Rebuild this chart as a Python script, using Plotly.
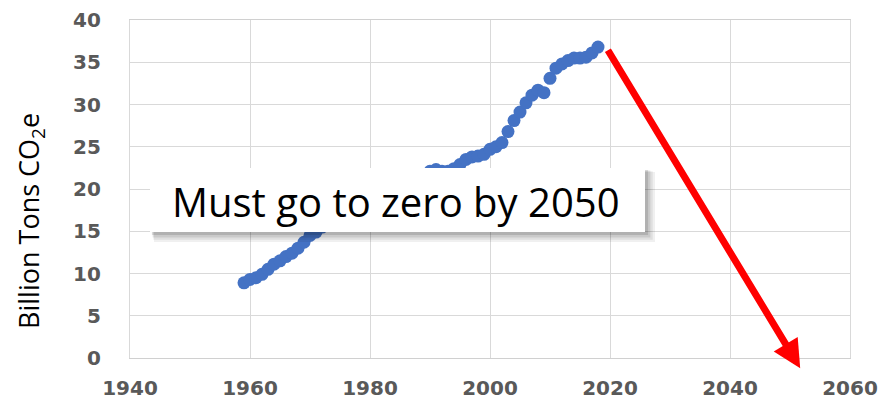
import plotly.graph_objects as go

years = list(range(1959, 2019))
emissions = [
    8.9, 9.3, 9.5, 9.9, 10.5, 11.1, 11.5, 12.0, 12.4, 13.0,
    13.7, 14.5, 14.9, 15.5, 16.3, 16.2, 16.2, 17.1, 17.6, 18.1,
    18.7, 18.4, 18.1, 18.0, 18.2, 18.8, 19.3, 19.7, 20.3, 21.0,
    21.4, 22.1, 22.3, 22.1, 22.1, 22.4, 22.9, 23.5, 23.8, 23.9,
    24.1, 24.7, 25.0, 25.5, 26.8, 28.1, 29.1, 30.2, 31.1, 31.7,
    31.4, 33.1, 34.3, 34.8, 35.2, 35.5, 35.5, 35.6, 36.1, 36.8,
]
x_ticks = [1940, 1960, 1980, 2000, 2020, 2040, 2060]
y_ticks = [0, 5, 10, 15, 20, 25, 30, 35, 40]
arrow_start = (2019.5, 36.6)
arrow_end = (2051.7, -1.2)
message = "Must go to zero by 2050"
y_title = "Billion Tons CO<sub>2</sub>e"

# page body adds an 8px offset; margins compensate so the plot lands
# at x 130..850, y 20..358 of the window
OFF = 8
W, H = 894, 400
L, R, T, B = 130 - OFF, 44 + OFF, 20 - OFF, 42 + OFF
XR = (1940, 2060)
YR = (0, 40)
pw, ph = W - L - R, H - T - B


def dx(px):
    return XR[0] + (px - 130) / pw * (XR[1] - XR[0])


def dy(py):
    return YR[0] + (358 - py) / ph * (YR[1] - YR[0])


fig = go.Figure()
fig.add_trace(go.Scatter(
    x=years, y=emissions, mode="markers",
    marker=dict(size=13, color="#4472C4"),
    hoverinfo="x+y", showlegend=False,
))

# annotation box with soft shadow
bx0, bx1, by0, by1 = 150, 645, 168, 232
shapes = []
for i, a in enumerate([0.06, 0.07, 0.09, 0.12]):
    off = 7 - i * 1.5
    grow = 3 - i * 0.8
    shapes.append(dict(
        type="rect", xref="x", yref="y", layer="above",
        x0=dx(bx0 + off - grow), x1=dx(bx1 + off + grow),
        y0=dy(by1 + off + grow), y1=dy(by0 + off - grow),
        fillcolor=f"rgba(0,0,0,{a})", line=dict(width=0),
    ))
shapes.append(dict(
    type="rect", xref="x", yref="y", layer="above",
    x0=dx(bx0), x1=dx(bx1), y0=dy(by1), y1=dy(by0),
    fillcolor="white", line=dict(width=0),
))
fig.update_layout(shapes=shapes)

fig.add_annotation(
    x=dx((bx0 + bx1) / 2 - 2), y=dy((by0 + by1) / 2 + 1), xref="x", yref="y",
    text=message, showarrow=False,
    font=dict(family="Open Sans", size=40, color="#000000"),
)

fig.add_annotation(
    x=arrow_end[0], y=arrow_end[1], ax=arrow_start[0], ay=arrow_start[1],
    xref="x", yref="y", axref="x", ayref="y",
    text="", showarrow=True, arrowhead=2, arrowsize=0.8,
    arrowwidth=7, arrowcolor="#FF0000", standoff=0,
)

fig.add_annotation(
    x=(30 - 130) / pw, y=(358 - 221) / ph, xref="paper", yref="paper",
    xanchor="center", yanchor="middle",
    text=y_title, textangle=-90, showarrow=False,
    font=dict(family="Open Sans", size=27, color="#000000"),
)

tick_font = dict(family="DejaVu Sans", size=20, color="#595959", weight="bold")
fig.update_xaxes(
    range=list(XR), tickvals=x_ticks, ticktext=[str(v) for v in x_ticks],
    showgrid=True, gridcolor="#d9d9d9", gridwidth=1.3,
    showline=True, linecolor="#d0d0d0", mirror=True, linewidth=1.3,
    zeroline=False, tickfont=tick_font, ticks="", ticklabelstandoff=12,
    automargin=False,
)
fig.update_yaxes(
    range=list(YR), tickvals=y_ticks, ticktext=[str(v) for v in y_ticks],
    showgrid=True, gridcolor="#d9d9d9", gridwidth=1.3,
    showline=True, linecolor="#d9d9d9", mirror=True, linewidth=1.3,
    zeroline=False, tickfont=tick_font, ticks="", ticklabelstandoff=24,
    automargin=False,
)
fig.update_layout(
    width=W, height=H,
    margin=dict(l=L, r=R, t=T, b=B),
    plot_bgcolor="white", paper_bgcolor="white",
)
fig.write_html("out.html")
